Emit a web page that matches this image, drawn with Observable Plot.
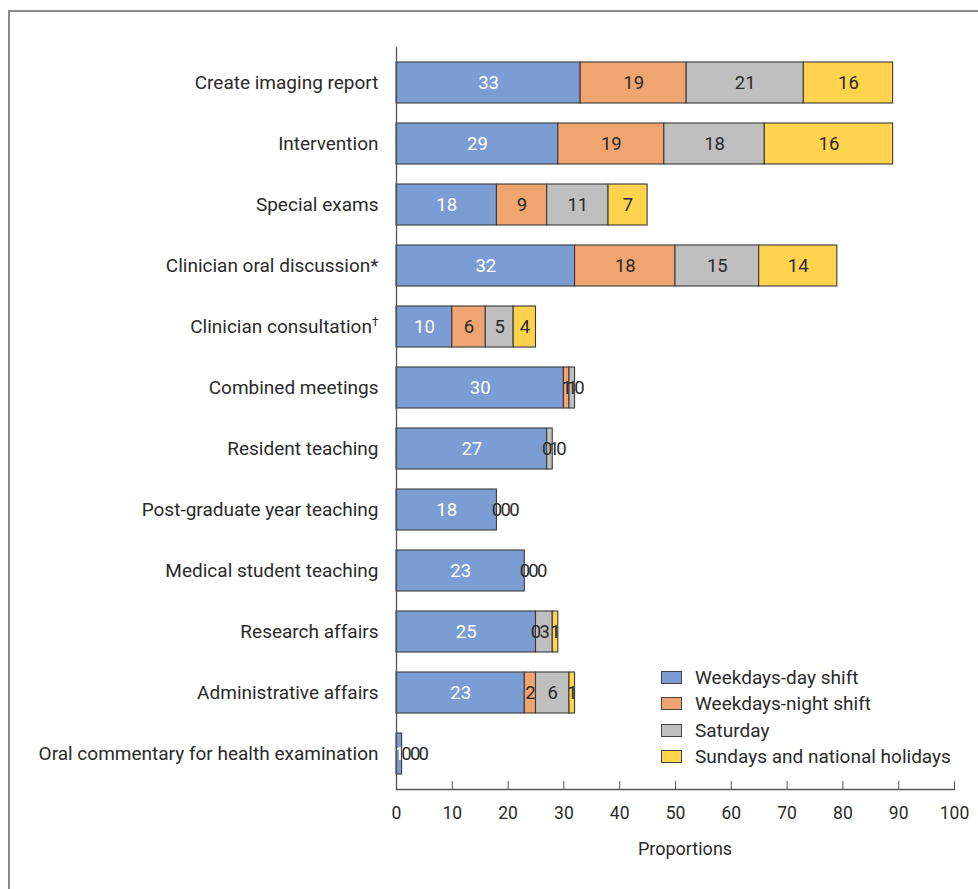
<!DOCTYPE html>
<html>
<head>
<meta charset="utf-8">
<script src="https://cdn.jsdelivr.net/npm/d3@7"></script>
<script src="https://cdn.jsdelivr.net/npm/@observablehq/plot@0.6"></script>
<style>
  html, body { margin: 0; padding: 0; background: #fff; }
  #wrap { position: relative; width: 978px; height: 889px; overflow: hidden; font-family: Roboto, "Open Sans", sans-serif; color: #2a2a2a; }
  #border { position: absolute; left: 8px; top: 10px; width: 2000px; height: 2000px; border-left: 2px solid #8c8c8c; border-top: 2px solid #8c8c8c; }
  #chart { position: absolute; left: 0; top: 0; }
  #legend { position: absolute; left: 661px; top: 664px; font-size: 19px; }
  .row { display: flex; align-items: center; height: 26.5px; }
  .sw { width: 21px; height: 13px; border: 1px solid #444; margin-right: 13px; box-sizing: border-box; }
  #xlabel { position: absolute; left: 585px; width: 200px; text-align: center; top: 838px; font-size: 18px; }
</style>
</head>
<body>
<div id="wrap">
  <div id="border"></div>
  <div id="chart"></div>
  <div id="legend"></div>
  <div id="xlabel">Proportions</div>
</div>
<script>
const categories = [
  "Create imaging report",
  "Intervention",
  "Special exams",
  "Clinician oral discussion*",
  "Clinician consultation\u2020",
  "Combined meetings",
  "Resident teaching",
  "Post-graduate year teaching",
  "Medical student teaching",
  "Research affairs",
  "Administrative affairs",
  "Oral commentary for health examination"
];
const seriesNames = ["Weekdays-day shift", "Weekdays-night shift", "Saturday", "Sundays and national holidays"];
const seriesColors = ["#7b9dd4", "#f0a46f", "#bfbfbf", "#ffd34e"];

// segment lengths as drawn
const dayShift      = [33, 29, 18, 32, 10, 30, 27, 18, 23, 25, 23, 1];
const nightShift    = [19, 19,  9, 18,  6,  1,  0,  0,  0,  0,  2, 0];
const saturday      = [21, 18, 11, 15,  5,  1,  1,  0,  0,  3,  6, 0];
const sundayHoliday = [16, 23,  7, 14,  4,  0,  0,  0,  0,  1,  1, 0];
// printed labels (the Intervention holiday bar is labelled 16 in the source)
const sundayHolidayLabels = [16, 16, 7, 14, 4, 0, 0, 0, 0, 1, 1, 0];

const xTicks = [0, 10, 20, 30, 40, 50, 60, 70, 80, 90, 100];

const W = 978, H = 889, ML = 396, MR = 24, MT = 47, MB = 100;
const pxPerUnit = (W - ML - MR) / 100;
const fontSize = 18.5;

const seriesValues = [dayShift, nightShift, saturday, sundayHoliday];
const seriesLabels = [dayShift, nightShift, saturday, sundayHolidayLabels];

const rows = [];
const labels = [];
categories.forEach((cat, i) => {
  let acc = 0;
  let prevX = null, prevW = 0;
  seriesNames.forEach((s, j) => {
    const v = seriesValues[j][i];
    const lab = String(seriesLabels[j][i]);
    rows.push({cat, series: s, value: v});
    let cx = acc + v / 2;
    const w = [...lab].reduce((a, c) => a + (c === "1" ? 0.3 : 0.47) * fontSize, 0) / pxPerUnit;
    if (prevX !== null && j > 0) cx = Math.max(cx, prevX + (prevW + w) / 2);
    labels.push({cat, series: s, x: cx, text: lab, white: j === 0});
    prevX = cx; prevW = w;
    acc += v;
  });
});

const chart = Plot.plot({
  width: W,
  height: H,
  marginLeft: ML,
  marginRight: MR,
  marginTop: MT,
  marginBottom: MB,
  style: {fontFamily: "Roboto, 'Open Sans', sans-serif", background: "transparent", color: "#2a2a2a"},
  x: {domain: [0, 100]},
  y: {domain: categories, paddingInner: 0.33, paddingOuter: 0.2},
  color: {domain: seriesNames, range: seriesColors},
  marks: [
    Plot.barX(rows, Plot.stackX({
      x: "value", y: "cat", z: "series", fill: "series",
      filter: d => d.value > 0,
      order: seriesNames,
      stroke: "#3a3a3a", strokeWidth: 1.1
    })),
    Plot.text(labels, {
      x: "x", y: "cat", text: "text",
      fill: d => d.white ? "#ffffff" : "#2a2a2a",
      fontSize: fontSize
    }),
    Plot.frame({anchor: "left", stroke: "#555", strokeWidth: 1.3}),
    Plot.frame({anchor: "bottom", stroke: "#555", strokeWidth: 1.3}),
    Plot.axisY({tickSize: 0, tickPadding: 18, fontSize: 19, label: null}),
    Plot.axisX(xTicks, {tickSize: 8, dy: -8, tickFormat: () => "", stroke: "#555", label: null}),
    Plot.axisX(xTicks, {tickSize: 0, tickPadding: 17, fontSize: 17.5, label: null})
  ]
});
document.getElementById("chart").appendChild(chart);

// render the dagger as a small superscript
chart.querySelectorAll("text").forEach(t => {
  if (t.children.length === 0 && t.textContent.includes("\u2020")) {
    const base = t.textContent.replace("\u2020", "");
    t.textContent = base;
    const ts = document.createElementNS("http://www.w3.org/2000/svg", "tspan");
    ts.setAttribute("font-size", "12");
    ts.setAttribute("dy", "-0.55em");
    ts.textContent = "\u2020";
    t.appendChild(ts);
  }
});

const legend = document.getElementById("legend");
seriesNames.forEach((s, j) => {
  const r = document.createElement("div");
  r.className = "row";
  const sw = document.createElement("div");
  sw.className = "sw";
  sw.style.background = seriesColors[j];
  const t = document.createElement("span");
  t.textContent = s;
  r.appendChild(sw); r.appendChild(t);
  legend.appendChild(r);
});
</script>
</body>
</html>
